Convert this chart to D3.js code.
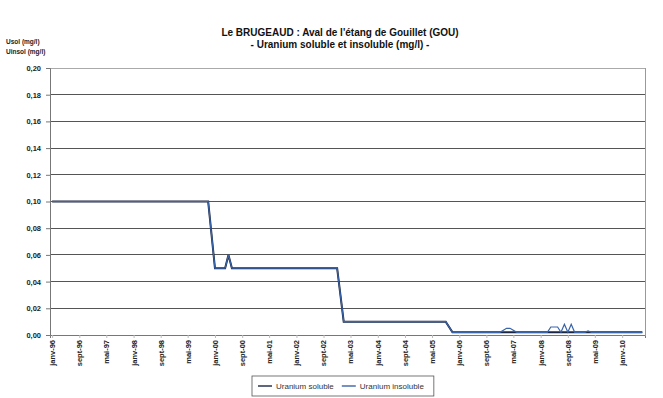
<!DOCTYPE html>
<html><head><meta charset="utf-8">
<script src="https://cdn.jsdelivr.net/npm/d3@7"></script>
<style>
html,body{margin:0;padding:0;background:#fff;}
svg{display:block;font-family:"Liberation Sans",Arial,sans-serif;}
</style></head>
<body>
<svg id="c" width="663" height="398"></svg>
<script>
// ---- data ----
const titleLines = ["Le BRUGEAUD : Aval de l'étang de Gouillet (GOU)", "- Uranium soluble et insoluble (mg/l) -"];
const yAxisTitles = ["Usol (mg/l)", "Uinsol (mg/l)"];
const seriesNames = ["Uranium soluble", "Uranium insoluble"];
const yTicks = [0, 0.02, 0.04, 0.06, 0.08, 0.10, 0.12, 0.14, 0.16, 0.18, 0.20];
const tickDates = ["1996-01","1996-09","1997-05","1998-01","1998-09","1999-05","2000-01","2000-09","2001-05","2002-01","2002-09","2003-05","2004-01","2004-09","2005-05","2006-01","2006-09","2007-05","2008-01","2008-09","2009-05","2010-01"];
const tickLabels = ["janv-96","sept-96","mai-97","janv-98","sept-98","mai-99","janv-00","sept-00","mai-01","janv-02","sept-02","mai-03","janv-04","sept-04","mai-05","janv-06","sept-06","mai-07","janv-08","sept-08","mai-09","janv-10"];
const sampleDates = ["1996-01","1999-11","2000-01","2000-04","2000-05","2000-06","2003-01","2003-03","2005-09","2005-11","2007-01","2007-03","2007-04","2007-06","2008-03","2008-04","2008-06","2008-07","2008-08","2008-09","2008-10","2008-11","2009-02","2009-03","2009-04","2010-07"];
const soluble   = [0.10,0.10,0.05,0.05,0.06,0.05,0.05,0.01,0.01,0.002,0.002,0.002,0.002,0.002,0.002,0.002,0.002,0.002,0.002,0.002,0.002,0.002,0.002,0.002,0.002,0.002];
const insoluble = [0.10,0.10,0.05,0.05,0.06,0.05,0.05,0.01,0.01,0.002,0.002,0.005,0.005,0.002,0.002,0.006,0.006,0.002,0.008,0.002,0.008,0.002,0.002,0.003,0.002,0.002];
const colors = ["#1a2645", "#3a64a8"];

// ---- layout ----
const svg = d3.select("#c");
const L = 50, R = 645, T = 68, B = 335;
const parse = d3.timeParse("%Y-%m");
const x = d3.scaleTime().domain([new Date(1995,11,13), new Date(2010,6,25)]).range([L, R]);
const y = d3.scaleLinear().domain([0, 0.2]).range([B, T]);
const fmt = d3.format(".2f");

// gridlines
svg.append("g").selectAll("line").data(yTicks.filter(d => d > 0)).join("line")
  .attr("x1", L).attr("x2", R).attr("y1", d => y(d)).attr("y2", d => y(d))
  .attr("stroke", d => d === 0.2 ? "#aaa" : "#555").attr("stroke-width", 1).attr("shape-rendering","crispEdges");

// right border
svg.append("line").attr("x1", R).attr("x2", R).attr("y1", T).attr("y2", B)
  .attr("stroke", "#999").attr("shape-rendering","crispEdges");

// y axis
const yAxis = d3.axisLeft(y).tickValues(yTicks).tickSize(4).tickPadding(5)
  .tickFormat(d => fmt(d).replace(".", ","));
const gy = svg.append("g").attr("transform", `translate(${L},0)`).call(yAxis);
gy.select(".domain").attr("stroke", "#777");
gy.selectAll(".tick line").attr("stroke", "#777");
gy.selectAll("text").attr("font-size", 7.5).attr("font-weight", "bold").attr("fill", "#222")
  .attr("font-family", "Liberation Sans, Arial, sans-serif");

// x axis
const xAxis = d3.axisBottom(x).tickValues(tickDates.map(parse)).tickSize(3).tickPadding(3)
  .tickFormat((d, i) => tickLabels[i]);
const gx = svg.append("g").attr("transform", `translate(0,${B})`).call(xAxis);
gx.select(".domain").attr("stroke", "#777");
gx.selectAll(".tick line").attr("stroke", "#bbb");
gx.selectAll("text").attr("font-size", 7.5).attr("font-weight", "bold").attr("fill", "#222")
  .attr("font-family", "Liberation Sans, Arial, sans-serif")
  .attr("transform", "rotate(-90)").attr("text-anchor", "end").attr("dy", "0.32em")
  .attr("x", -5).attr("y", 0);

// lines
const rows = sampleDates.map((d, i) => ({date: parse(d), v: [soluble[i], insoluble[i]]}));
const line = k => d3.line().x(d => x(d.date)).y(d => y(d.v[k]))(rows);
svg.append("path").attr("d", line(0)).attr("fill", "none").attr("stroke", colors[0]).attr("stroke-width", 2);
svg.append("path").attr("d", line(1)).attr("fill", "none").attr("stroke", colors[1]).attr("stroke-width", 1.2);

// titles
svg.append("g").selectAll("text").data(titleLines).join("text")
  .attr("x", 340).attr("y", (d, i) => 36 + i * 11.5).attr("text-anchor", "middle")
  .attr("font-size", 10).attr("font-weight", "bold").attr("fill", "#111").text(d => d);

svg.append("g").selectAll("text").data(yAxisTitles).join("text")
  .attr("x", 6).attr("y", (d, i) => 44 + i * 9.5)
  .attr("font-size", 6.5).attr("font-weight", "bold").attr("fill", "#222").text(d => d);

// legend
const lg = svg.append("g");
const lbox = lg.append("rect").attr("fill", "#fff").attr("stroke", "#555").attr("stroke-width", 0.8);
let cx = 258;
seriesNames.forEach((n, i) => {
  lg.append("line").attr("x1", cx).attr("x2", cx + 14).attr("y1", 386).attr("y2", 386)
    .attr("stroke", colors[i]).attr("stroke-width", 1.4);
  const t = lg.append("text").attr("x", cx + 18).attr("y", 389).attr("font-size", 8)
    .attr("fill", "#333").text(n);
  cx += 18 + t.node().getComputedTextLength() + 8;
});
lbox.attr("x", 252).attr("y", 376).attr("width", cx - 252 + 2).attr("height", 20);
</script>
</body></html>
